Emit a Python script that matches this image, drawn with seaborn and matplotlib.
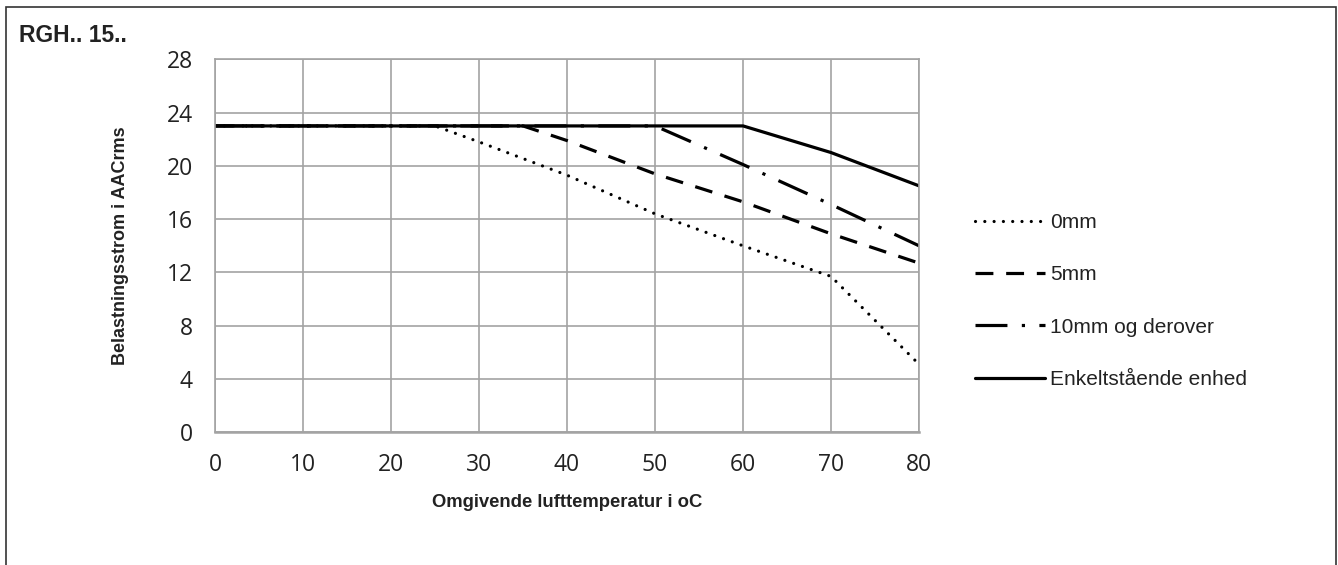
import matplotlib
matplotlib.use("Agg")
import matplotlib.pyplot as plt
from matplotlib.patches import Rectangle
import seaborn as sns
import pandas as pd

# ---- data ----
series_names = ["0mm", "5mm", "10mm og derover", "Enkeltstående enhed"]
temp_0mm = [0, 25, 30, 40, 50, 60, 70, 80]
curr_0mm = [23, 23, 21.8, 19.3, 16.4, 14.0, 11.7, 5.1]
temp_5mm = [0, 35, 40, 50, 60, 70, 80]
curr_5mm = [23, 23, 21.9, 19.4, 17.3, 14.9, 12.7]
temp_10mm = [0, 50, 60, 70, 80]
curr_10mm = [23, 23, 20.1, 17.1, 14.0]
temp_single = [0, 60, 70, 80]
curr_single = [23, 23, 21.0, 18.5]
x_ticks = [0, 10, 20, 30, 40, 50, 60, 70, 80]
y_ticks = [0, 4, 8, 12, 16, 20, 24, 28]

title_text = "RGH.. 15.."
x_label = "Omgivende lufttemperatur i oC"
y_label = "Belastningsstrom i AACrms"

frames = []
for name, xs, ys in zip(series_names,
                        [temp_0mm, temp_5mm, temp_10mm, temp_single],
                        [curr_0mm, curr_5mm, curr_10mm, curr_single]):
    frames.append(pd.DataFrame({"temp": xs, "curr": ys, "series": name}))
df = pd.concat(frames, ignore_index=True)

sns.set_style("white")
plt.rcParams["font.family"] = ["Liberation Sans", "DejaVu Sans"]

fig = plt.figure(figsize=(13.38, 5.65), dpi=100)
ax = fig.add_axes([0.1607, 0.2349, 0.5262, 0.6601])

dash_map = {
    "0mm": (0.01, 2.9),
    "5mm": (5.6, 4.0),
    "10mm og derover": (10.0, 4.5, 1.0, 4.5),
    "Enkeltstående enhed": "",
}

sns.lineplot(data=df, x="temp", y="curr", style="series", style_order=series_names,
             dashes=dash_map, color="black", linewidth=2.3, sort=False,
             estimator=None, ax=ax)

# round caps for the dotted line
ax.lines[0].set_dash_capstyle("round")

ax.set_xlim(0, 80)
ax.set_ylim(0, 28)
ax.set_xticks(x_ticks)
ax.set_yticks(y_ticks)
ax.grid(True, color="#a3a3a3", linewidth=1.2)
ax.set_axisbelow(True)
for sp in ax.spines.values():
    sp.set_color("#a3a3a3")
    sp.set_linewidth(1.2)
ax.spines["bottom"].set_linewidth(1.8)

ax.tick_params(axis="both", colors="#a3a3a3", labelcolor="#222222", width=1.2)
ax.tick_params(axis="x", length=5, pad=10)
ax.tick_params(axis="y", length=6, pad=10)
for lab in ax.get_xticklabels() + ax.get_yticklabels():
    lab.set_fontfamily("Open Sans")
    lab.set_fontsize(16.5)

ax.set_xlabel(x_label, fontsize=13.3, fontweight="bold", color="#222222", labelpad=12)
ax.set_ylabel(y_label, fontsize=13, fontweight="bold", color="#222222", labelpad=27)

sns.move_legend(ax, "center left", bbox_to_anchor=(0.7212, 0.4673),
                bbox_transform=fig.transFigure, frameon=False, title="",
                fontsize=15, handlelength=3.35, handletextpad=0.25,
                borderpad=0, labelspacing=1.6)
leg = ax.get_legend()
for t in leg.get_texts():
    t.set_color("#222222")
leg.legend_handles[0].set_dash_capstyle("round")

fig.text(19 / 1338, 1 - 41.5 / 565, title_text, fontsize=16.5, fontweight="bold",
         color="#222222", ha="left", va="baseline")

fig.patches.append(Rectangle((6 / 1338, -0.1), (1336 - 6) / 1338, 1.1 - 7 / 565,
                             transform=fig.transFigure, fill=False,
                             edgecolor="#333333", linewidth=1.2))

fig.savefig("out.png", dpi=100)
